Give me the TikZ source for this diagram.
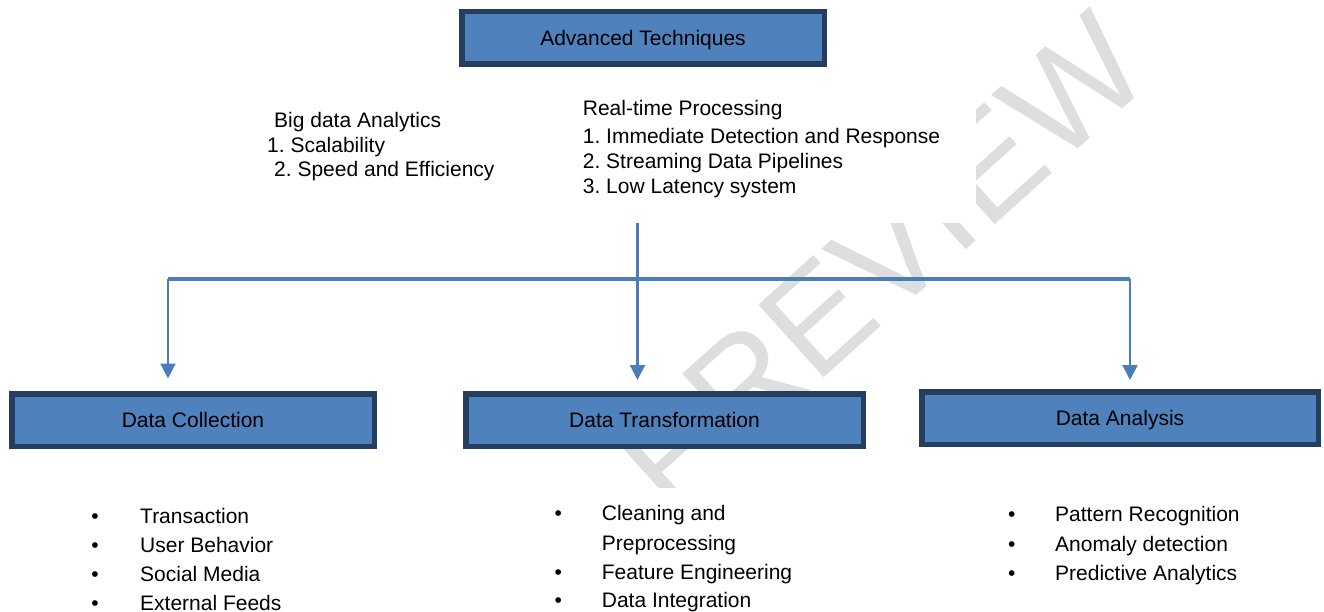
\documentclass[tikz,border=0pt]{standalone}
\usepackage{fontspec}
\setmainfont{Liberation Sans}
\usetikzlibrary{arrows.meta}
\definecolor{boxfill}{RGB}{79,129,189}
\definecolor{boxline}{RGB}{37,62,95}
\definecolor{arrowblue}{RGB}{74,126,187}
\definecolor{wmgray}{RGB}{222,222,222}
\frenchspacing
\tikzset{
  stagebox/.style={draw=boxline, fill=boxfill, line width=5.5pt, inner sep=0pt,
    minimum height=52.5pt, text height=15pt, text depth=0pt},
  txt/.style={anchor=base west, inner sep=0pt},
  bul/.style={anchor=base, inner sep=0pt},
  trunk/.style={draw=arrowblue, line width=3.5pt},
  branch/.style={draw=arrowblue, line width=2.3pt, -{Triangle[width=15pt,length=15pt]}},
  maskbox/.style={fill=white, draw=none, inner sep=0pt},
}
\begin{document}
\begin{tikzpicture}[x=1pt,y=-1pt,font=\fontsize{21}{25}\selectfont]
\useasboundingbox (0,0) rectangle (1324,612);
% watermark
\node[rotate=42, inner sep=0pt, text=wmgray, font=\fontsize{142}{142}\selectfont] (wm) at (880,262) {PREVIEW};
% white text-frame backgrounds
\node[maskbox, minimum width=411pt, minimum height=130pt] (rtbg) at (770.5,158) {};
\node[maskbox, minimum width=360pt, minimum height=124pt] (dtbg) at (720,550) {};
% boxes
\node[stagebox, minimum width=362.5pt] (adv) at (643,38) {Advanced Techniques};
\node[stagebox, minimum width=362.5pt] (dc) at (193,420) {Data Collection};
\node[stagebox, minimum width=397.5pt] (dt) at (664.5,420) {Data Transformation};
\node[stagebox, minimum width=396.5pt] (da) at (1120,418) {Data Analysis};
% top texts
\node[txt] (bd0) at (274,127.3) {Big data Analytics};
\node[txt] (bd1) at (267,152.3) {1. Scalability};
\node[txt] (bd2) at (274,176.7) {2. Speed and Efficiency};
\node[txt] (rt0) at (582.7,116) {Real-time Processing};
\node[txt] (rt1) at (582.7,143.3) {1. Immediate Detection and Response};
\node[txt] (rt2) at (582.7,168.3) {2. Streaming Data Pipelines};
\node[txt] (rt3) at (582.7,193.3) {3. Low Latency system};
% connectors
\coordinate (jn) at (637.5,279);
\coordinate (hl) at (168,279);
\coordinate (hr) at (1130,279);
\coordinate (al) at (168,378.5);
\coordinate (am) at (637.5,380);
\coordinate (ar) at (1130,380);
\draw[trunk] (rtbg.south -| jn) -- (jn);
\draw[trunk] (hl) -- (hr);
\draw[branch] (hl) -- (al);
\draw[branch] (jn) -- (am);
\draw[branch] (hr) -- (ar);
% lists
\node[bul] (b11) at (95,523.3) {•};
\node[txt] (t11) at (140,523.3) {Transaction};
\node[bul] (b12) at (95,552.3) {•};
\node[txt] (t12) at (140,552.3) {User Behavior};
\node[bul] (b13) at (95,581.7) {•};
\node[txt] (t13) at (140,581.7) {Social Media};
\node[bul] (b14) at (95,610.7) {•};
\node[txt] (t14) at (140,610.7) {External Feeds};
\node[bul] (b21) at (558.3,520.7) {•};
\node[txt] (t21) at (601.7,520.7) {Cleaning and};
\node[txt] (t21b) at (601.7,550) {Preprocessing};
\node[bul] (b22) at (558.3,579.3) {•};
\node[txt] (t22) at (601.7,579.3) {Feature Engineering};
\node[bul] (b23) at (558.3,607.3) {•};
\node[txt] (t23) at (601.7,607.3) {Data Integration};
\node[bul] (b31) at (1011.7,521.7) {•};
\node[txt] (t31) at (1055,521.7) {Pattern Recognition};
\node[bul] (b32) at (1011.7,551) {•};
\node[txt] (t32) at (1055,551) {Anomaly detection};
\node[bul] (b33) at (1011.7,580) {•};
\node[txt] (t33) at (1055,580) {Predictive Analytics};
\end{tikzpicture}
\end{document}
